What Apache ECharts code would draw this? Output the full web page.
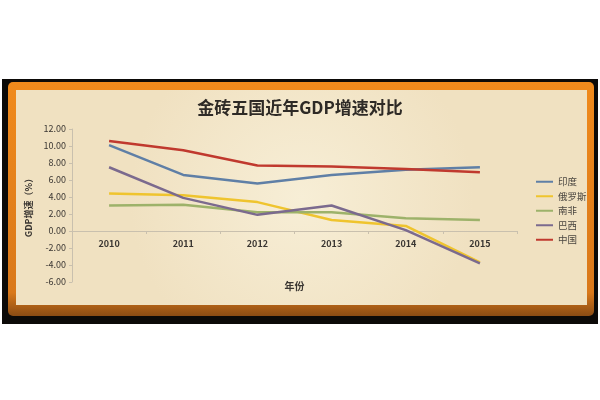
<!DOCTYPE html>
<html>
<head>
<meta charset="utf-8" />
<title>金砖五国近年GDP增速对比</title>
<script src="https://cdn.jsdelivr.net/npm/echarts@6/dist/echarts.min.js"></script>
<style>
  html, body { margin: 0; padding: 0; width: 100%; height: 100%; background: #ffffff; }
  #container { width: 600px; height: 400px; }
</style>
</head>
<body>
<div id="container"></div>
<script>
  // years on the x axis
  var years = ['2010', '2011', '2012', '2013', '2014', '2015'];
  // GDP growth, %
  var india = [10.1, 6.6, 5.6, 6.6, 7.2, 7.5];
  var russia = [4.4, 4.2, 3.4, 1.3, 0.6, -3.7];
  var southAfrica = [3.0, 3.1, 2.2, 2.2, 1.5, 1.3];
  var brazil = [7.5, 3.9, 1.9, 3.0, 0.1, -3.8];
  var china = [10.6, 9.5, 7.7, 7.6, 7.3, 6.9];

  var names = ['印度', '俄罗斯', '南非', '巴西', '中国'];
  var colors = ['#5f7fa6', '#efc42e', '#9db26a', '#7b6a8e', '#c0392e'];
  var values = [india, russia, southAfrica, brazil, china];

  var chart = echarts.init(document.getElementById('container'));

  var series = [];
  for (var i = 0; i < names.length; i++) {
    series.push({
      name: names[i],
      type: 'line',
      data: values[i],
      symbol: 'none',
      lineStyle: { width: 2.5, color: colors[i] },
      itemStyle: { color: colors[i] },
      z: 3
    });
  }

  var font = '"Noto Sans CJK SC", "Noto Sans", sans-serif';

  var option = {
    animation: false,
    textStyle: { fontFamily: font },
    graphic: [
      // black outer band
      { type: 'rect', z: -10, shape: { x: 2, y: 79, width: 596, height: 245 }, style: { fill: '#0c0a08' } },
      // orange frame
      {
        type: 'rect', z: -9,
        shape: { x: 8, y: 82, width: 586, height: 234, r: 5 },
        style: {
          fill: {
            type: 'linear', x: 0, y: 0, x2: 0, y2: 1,
            colorStops: [
              { offset: 0, color: '#f08a1c' },
              { offset: 0.9, color: '#d9781a' },
              { offset: 1, color: '#8a4c14' }
            ]
          }
        }
      },
      // parchment panel
      {
        type: 'rect', z: -8,
        shape: { x: 16, y: 90, width: 571, height: 215 },
        style: {
          fill: {
            type: 'radial', x: 0.5, y: 0.5, r: 0.8,
            colorStops: [
              { offset: 0, color: '#f7eed6' },
              { offset: 1, color: '#f0e1c1' }
            ]
          }
        }
      }
    ],
    title: {
      text: '金砖五国近年GDP增速对比',
      left: 'center',
      top: 94,
      textStyle: { fontSize: 17, fontWeight: 'bold', color: '#2e2a26', fontFamily: font }
    },
    legend: {
      orient: 'vertical',
      left: 531,
      top: 172,
      itemWidth: 17,
      itemHeight: 2,
      itemGap: 5,
      icon: 'rect',
      data: names,
      textStyle: { fontSize: 9.5, color: '#4a4640', fontFamily: font }
    },
    grid: { left: 72, right: 83, top: 129, bottom: 118 },
    xAxis: {
      type: 'category',
      data: years,
      boundaryGap: true,
      name: '年份',
      nameLocation: 'middle',
      nameGap: 50,
      offset: -51,
      nameTextStyle: { fontSize: 10, fontWeight: 'bold', color: '#3a3632' },
      axisLine: { onZero: false, lineStyle: { color: '#c9c0ae', width: 1 } },
      axisTick: { show: true, length: 3, alignWithLabel: false, lineStyle: { color: '#c9c0ae' } },
      axisLabel: { fontSize: 9, color: '#3a3632', margin: 8, fontWeight: 'bold' }
    },
    yAxis: {
      type: 'value',
      min: -6,
      max: 12,
      interval: 2,
      name: 'GDP增速（%）',
      nameLocation: 'middle',
      nameRotate: 90,
      nameGap: 37,
      nameTextStyle: { fontSize: 9, fontWeight: 'bold', color: '#3a3632' },
      axisLine: { show: true, lineStyle: { color: '#c9c0ae', width: 1 } },
      axisTick: { show: true, length: 3, lineStyle: { color: '#c9c0ae' } },
      splitLine: { show: false },
      axisLabel: {
        fontSize: 9, color: '#3a3632', margin: 6,
        formatter: function (v) { return v.toFixed(2); }
      }
    },
    series: series
  };

  chart.setOption(option);
</script>
</body>
</html>
